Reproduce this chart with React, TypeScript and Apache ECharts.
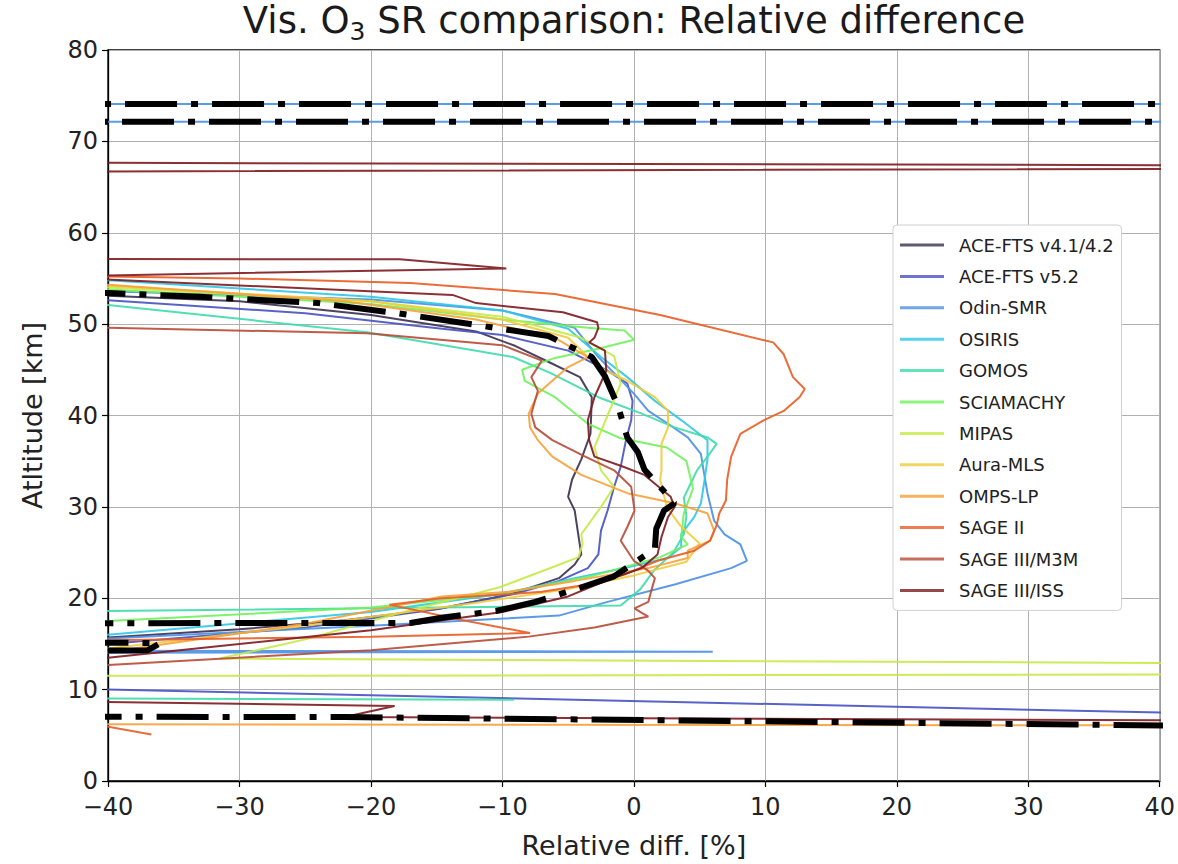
import React, { useEffect, useRef } from "react";
import * as echarts from "echarts";

// Tick values
const xTicks = [-40, -30, -20, -10, 0, 10, 20, 30, 40];
const yTicks = [0, 10, 20, 30, 40, 50, 60, 70, 80];

// Instrument names and colours
const names = [
  "ACE-FTS v4.1/4.2",
  "ACE-FTS v5.2",
  "Odin-SMR",
  "OSIRIS",
  "GOMOS",
  "SCIAMACHY",
  "MIPAS",
  "Aura-MLS",
  "OMPS-LP",
  "SAGE II",
  "SAGE III/M3M",
  "SAGE III/ISS",
];
const colors = [
  "#3a2d4f", "#4751c0", "#4a8fe6", "#2ec6e6", "#3ddbaa", "#6ef25a",
  "#c4ea45", "#efcc3a", "#f7a038", "#e85c24", "#b84a35", "#7d1a1f",
];

// Profiles: [relative difference %, altitude km]
const aceV41 = [[-100, 15.2], [-40, 15.7], [-30, 16.6], [-22, 17.6], [-14.6, 18.9], [-9.5, 20.4], [-5.7, 22.2], [-4.5, 23.7], [-4, 24.8], [-4.2, 26.7], [-4.5, 29.6], [-5, 31.1], [-4.7, 33], [-4, 35.2], [-3.3, 38], [-3.2, 42], [-4.1, 44.2], [-6.4, 45.8], [-9, 47.6], [-12, 49.2], [-20, 51], [-30, 52.5], [-40, 53.1], [-100, 53.6]];
const aceV52 = [[100, 5.6], [-100, 11.9], [-100, 14.3], [-40, 15.0], [-25, 16.8], [-15, 18.8], [-9, 20.5], [-5.7, 21.9], [-3.5, 23.3], [-2.7, 24.8], [-2.5, 27.4], [-2, 29.6], [-1.5, 32.2], [-1, 34.4], [-0.6, 37.3], [-0.2, 39.5], [-0.1, 41.6], [-0.5, 43.5], [-2, 44.9], [-5, 47.1], [-10, 48.8], [-14.6, 49.5], [-25, 51.2], [-40, 52.6], [-100, 53.2]];
const odin = [[-100, 13.9], [6, 14.15], [-100, 14.4], [-100, 15.2], [-40, 15.6], [-20, 17.0], [-9.5, 17.8], [-5.7, 18.1], [-2, 19.6], [3.1, 21.5], [7.4, 23.3], [8.6, 24.1], [8.1, 25.9], [6.9, 27], [6.1, 28.5], [5.6, 31.5], [5.3, 34], [5.1, 35.8], [4.1, 37.6], [2.6, 39.1], [1.1, 40.5], [0, 42.4], [-1.2, 44.2], [-2.7, 46.4], [-4.5, 49.6], [-10, 51.5], [-20, 52.7], [-40, 53.6], [-100, 54], [-300, 72.1], [300, 72.2], [300, 74.1], [-300, 74.1]];
const osiris = [[-100, 15.5], [-40, 16.0], [-20, 18.5], [-10, 20.5], [-4.5, 22.2], [-0.7, 23.3], [2.6, 24.4], [3.6, 25.6], [3.6, 27], [4.6, 28.9], [5.1, 30.4], [5.3, 32.2], [5.6, 35.2], [5.6, 37.3], [3.6, 39.5], [1.6, 41.6], [-0.5, 44.2], [-2.5, 46.4], [-5, 49.5], [-10, 51.5], [-20, 53], [-40, 54.8], [-100, 55.2]];
const gomos = [[-9.1, 8.9], [-100, 9.3], [-100, 18.4], [-40, 18.6], [-1, 19.2], [0.5, 21], [1.5, 23], [3, 25], [3.8, 27], [4, 29], [3.8, 31], [4.8, 34], [5.6, 35.5], [6.3, 36.9], [5.6, 37.6], [3.1, 38.7], [0.6, 40.2], [-2.7, 42], [-6.4, 44.7], [-9.2, 46.4], [-20.3, 49.1], [-40, 52.1], [-100, 53]];
const sciamachy = [[-100, 17.0], [-40, 17.5], [-20, 19.0], [-10, 20.5], [-3, 22.5], [2, 24.5], [4.1, 25.9], [3.6, 26.7], [3.8, 29.3], [4.5, 32], [4, 35], [2.5, 36.5], [-1, 37.5], [-3.5, 39.1], [-6, 42], [-8.3, 43.8], [-8.5, 45], [-6, 46.3], [-2.7, 47.3], [0, 48.3], [-0.7, 49.3], [-3.5, 49.6], [-10, 50.5], [-20, 52.2], [-40, 53.8], [-100, 54.3]];
const mipas = [[-100, 11.4], [100, 11.75], [100, 12.5], [-31.5, 13.4], [-25, 15.5], [-18, 18.3], [-10.2, 21.2], [-6, 23.5], [-4.2, 24.5], [-3.9, 26], [-4, 27], [-2.5, 30], [-1.5, 32.2], [-2.5, 34], [-3, 36.5], [-2, 40], [-1, 43.5], [-1.5, 46.5], [-4, 48.5], [-10, 50.8], [-20, 52.5], [-40, 54.0], [-100, 54.5]];
const auraMls = [[-100, 14.0], [-40, 14.5], [-25, 17], [-12, 19.5], [-5, 21], [0, 22.5], [4, 24], [5, 26], [3.5, 28], [2.5, 30], [2, 33], [2.1, 34], [2.1, 36.9], [2.6, 38.7], [2.6, 40.5], [1.6, 42], [-0.5, 43.8], [-2.7, 45.3], [-5, 48.5], [-10, 50.5], [-20, 52.5], [-40, 54.2], [-100, 54.8]];
const ompsLp = [[100, 6.0], [-100, 6.3], [-100, 13.6], [-40, 14.1], [-25, 17.2], [-14.6, 20.2], [-9.5, 20.7], [-4.5, 21.9], [1.1, 23.3], [4.1, 24.4], [4.1, 25.2], [5.8, 26.3], [6.1, 27.4], [5.6, 29.3], [3.1, 30.4], [-0.5, 31.5], [-4, 33.5], [-6.2, 35.5], [-7.3, 37.3], [-7.9, 38.7], [-8, 40.2], [-7.3, 42.4], [-6.2, 43.8], [-5, 45.3], [-3.5, 46.4], [-6, 48.5], [-12, 50.5], [-22, 52.5], [-40, 54.3], [-100, 54.8]];
const sage2 = [[-36.7, 5.1], [-41, 6.2], [-100, 6.35], [-100, 15.2], [-40, 15.4], [-20, 15.8], [-7.9, 16.2], [-13, 17.6], [-18.6, 19.3], [-14.6, 20], [-10, 20.4], [-7, 20.7], [-3.5, 21.5], [-0.7, 22.6], [1.8, 24.1], [4.6, 25.2], [5.8, 26.3], [6.3, 28], [6.5, 29.3], [7, 30.7], [7.1, 33], [7.4, 35.5], [8.1, 38], [9.9, 39.5], [11.4, 40.5], [12.6, 42], [13, 42.9], [12.1, 44.2], [11.4, 46.7], [10.6, 48], [10, 48.2], [2, 51], [-6, 53.3], [-17, 54.5], [-30, 55.0], [-40, 55.2], [-100, 55.5]];
const sage3m3m = [[-100, 12.3], [-40, 12.7], [-20, 14.3], [-8, 15.8], [-3, 16.8], [1.1, 18], [0.6, 18.4], [0.05, 18.9], [1.1, 19.6], [1.3, 20.7], [1.6, 22.2], [1.1, 23], [0, 24.1], [-0.5, 25.2], [-1, 26.3], [-0.5, 27.8], [0.05, 29.6], [-0.2, 32.2], [-1.5, 34], [-3.7, 35.5], [-6.2, 37.3], [-7.5, 38.7], [-7.8, 40.2], [-7.3, 42.7], [-7.8, 44.2], [-7, 46], [-10, 47.7], [-20.3, 49.0], [-40, 49.6], [-100, 49.8]];
const sage3iss = [[100, 6.3], [-22, 7.0], [-18.2, 8.2], [-100, 9.9], [-100, 13.0], [-40, 13.5], [-20, 16.5], [-10, 18.5], [-5, 20.2], [-2, 22], [0.6, 23.3], [1.8, 24.8], [2.1, 26.7], [2.6, 28.9], [3.1, 30], [2.8, 31.1], [0.8, 33.5], [-1, 34.5], [-3, 35.5], [-3.4, 37.3], [-3.5, 39.5], [-3, 42], [-2.1, 44.9], [-2.2, 47.1], [-3.4, 48], [-3, 48.5], [-2.7, 49.6], [-2.8, 50.2], [-5.4, 51.3], [-12, 52.3], [-13.8, 53.2], [-45, 55.2], [-9.7, 56.1], [-17.8, 57.1], [-100, 57.2], [-100, 66.5], [100, 67.2], [-100, 67.85]];
const meanProfile = [[100, 5.2], [-22, 7.0], [-100, 7.1], [-100, 13.9], [-37, 14.3], [-36, 15.1], [-100, 15.6], [-100, 17.2], [-17, 17.3], [-14.5, 17.9], [-10.5, 18.6], [-7.5, 19.6], [-4.2, 21.1], [-1.5, 22.4], [1.6, 25.4], [1.7, 27.6], [2.3, 29.6], [3.1, 30.4], [0.8, 34.1], [0.3, 36], [-0.5, 37.6], [-1.2, 41], [-2.2, 44.3], [-3.2, 46.4], [-6.5, 48.7], [-11.5, 49.8], [-18, 51.2], [-24, 52.3], [-33, 53.0], [-40, 53.4], [-100, 53.8], [-300, 72.1], [300, 72.2], [300, 74.1], [-300, 74.1]];

const profiles = [aceV41, aceV52, odin, osiris, gomos, sciamachy, mipas, auraMls, ompsLp, sage2, sage3m3m, sage3iss];

const FONT = "DejaVu Sans";
const minus = (v: number) => String(v).replace("-", "\u2212");

export default function App() {
  const ref = useRef<HTMLDivElement>(null);
  useEffect(() => {
    if (!ref.current) return;
    const chart = echarts.init(ref.current, undefined, { renderer: "svg" });
    const series: any[] = profiles.map((d, i) => ({
      name: names[i],
      type: "line",
      data: d,
      symbol: "none",
      clip: true,
      z: 2,
      lineStyle: { color: colors[i], width: 2, opacity: 0.9 },
      itemStyle: { color: colors[i] },
    }));
    series.push({
      name: "mean",
      type: "line",
      data: meanProfile,
      symbol: "none",
      clip: true,
      z: 5,
      lineStyle: { color: "#000", width: 6, type: [52, 14, 7, 14], cap: "butt" },
      itemStyle: { color: "#000" },
    });
    chart.setOption({
      animation: false,
      backgroundColor: "#fff",
      textStyle: { fontFamily: FONT },
      graphic: [
        {
          type: "text",
          x: 634,
          y: 2,
          style: {
            text: "{a|Vis. O}{s|3}{a| SR comparison: Relative difference}",
            align: "center",
            verticalAlign: "top",
            rich: {
              a: { fontSize: 37, fontFamily: FONT, fill: "#1a1a1a", lineHeight: 46, verticalAlign: "top" },
              s: { fontSize: 25, fontFamily: FONT, fill: "#1a1a1a", lineHeight: 46, padding: [17, 0, 0, 0], verticalAlign: "top" },
            },
          },
        },
      ],
      grid: {
        left: 108,
        right: 18,
        top: 50,
        bottom: 83,
        show: true,
        borderColor: "#000",
        borderWidth: 1.3,
        backgroundColor: "transparent",
      },
      legend: {
        data: names,
        orient: "vertical",
        left: 893,
        top: 225,
        icon: "rect",
        itemWidth: 44,
        itemHeight: 3,
        itemGap: 9.4,
        backgroundColor: "#fff",
        borderColor: "#d0d0d0",
        borderWidth: 1,
        borderRadius: 4,
        padding: [9, 8, 9, 7],
        itemStyle: { opacity: 0.8 },
        textStyle: { fontSize: 18, fontFamily: FONT, color: "#222", padding: [0, 0, 0, 10], lineHeight: 22 },
      },
      xAxis: {
        type: "value",
        min: xTicks[0],
        max: xTicks[xTicks.length - 1],
        interval: 10,
        name: "Relative diff. [%]",
        nameLocation: "middle",
        nameGap: 51,
        nameTextStyle: { fontSize: 27, fontFamily: FONT, color: "#222" },
        axisLine: { show: true, onZero: false, lineStyle: { color: "#000", width: 1.3 } },
        axisTick: { show: true, inside: false, length: 6, lineStyle: { color: "#000", width: 1.2 } },
        axisLabel: { fontSize: 24, lineHeight: 24, fontFamily: FONT, color: "#222", margin: 14, formatter: (v: number) => minus(v) },
        splitLine: { show: true, lineStyle: { color: "#b0b0b0", width: 1 } },
      },
      yAxis: {
        type: "value",
        min: yTicks[0],
        max: yTicks[yTicks.length - 1],
        interval: 10,
        name: "Atltitude [km]",
        nameLocation: "middle",
        nameGap: 62,
        nameTextStyle: { fontSize: 27, fontFamily: FONT, color: "#222" },
        axisLine: { show: true, onZero: false, lineStyle: { color: "#000", width: 1.3 } },
        axisTick: { show: true, inside: false, length: 6, lineStyle: { color: "#000", width: 1.2 } },
        axisLabel: { fontSize: 24, lineHeight: 18, fontFamily: FONT, color: "#222", margin: 10, formatter: (v: number) => minus(v) },
        splitLine: { show: true, lineStyle: { color: "#b0b0b0", width: 1 } },
      },
      series,
    });
    return () => chart.dispose();
  }, []);
  return (
    <div
      ref={ref}
      style={{ position: "absolute", left: 0, top: 0, width: 1178, height: 864, background: "#fff" }}
    />
  );
}
